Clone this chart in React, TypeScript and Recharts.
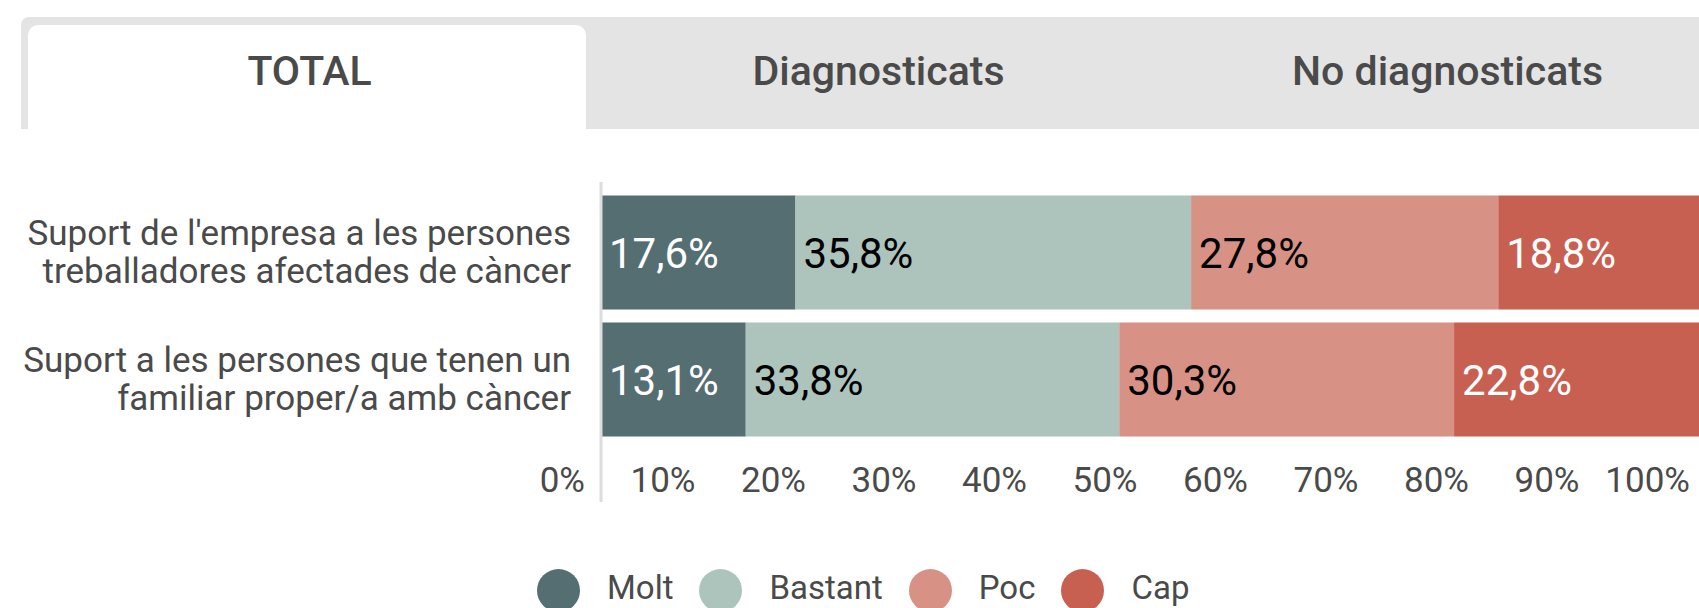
import React from 'react';
import { BarChart, Bar, XAxis, YAxis, Legend, LabelList } from 'recharts';

const categories = [
  "Suport de l'empresa a les persones treballadores afectades de càncer",
  'Suport a les persones que tenen un familiar proper/a amb càncer',
];
const categoryLines = [
  ["Suport de l'empresa a les persones", 'treballadores afectades de càncer'],
  ['Suport a les persones que tenen un', 'familiar proper/a amb càncer'],
];
const seriesNames = ['Molt', 'Bastant', 'Poc', 'Cap'];
const molt = [17.6, 13.1];
const bastant = [35.8, 33.8];
const poc = [27.8, 30.3];
const cap = [18.8, 22.8];
const xTicks = [0, 10, 20, 30, 40, 50, 60, 70, 80, 90, 100];
const tabLabels = ['TOTAL', 'Diagnosticats', 'No diagnosticats'];

const seriesColors = ['#546e72', '#adc4bd', '#d89285', '#c86052'];
const labelColors = ['#ffffff', '#000000', '#000000', '#ffffff'];
const seriesValues = [molt, bastant, poc, cap];

const data = categories.map((c, i) => {
  const row: any = { category: c };
  seriesNames.forEach((s, k) => {
    row[s] = seriesValues[k][i];
  });
  return row;
});

const FONT = 'Roboto, sans-serif';
const TEXT = '#4a4a4a';

const fmt = (v: number) => v.toFixed(1).replace('.', ',') + '%';

const CatTick = (props: any) => {
  const { x, y, payload } = props;
  const idx = categories.indexOf(payload.value);
  const lines = idx >= 0 ? categoryLines[idx] : [String(payload.value)];
  const n = lines.length;
  return (
    <text x={x} y={y} textAnchor="end" fontSize={35} fill={TEXT} fontFamily={FONT}>
      {lines.map((l, i) => (
        <tspan key={i} x={x} y={y + (i - (n - 1) / 2) * 38 + 12}>
          {l}
        </tspan>
      ))}
    </text>
  );
};

const XTick = (props: any) => {
  const { x, y, payload } = props;
  return (
    <text x={x - 16} y={y - 10} textAnchor="end" fontSize={35} fill={TEXT} fontFamily={FONT}>
      {payload.value}%
    </text>
  );
};

const makeLabel = (color: string) => (props: any) => {
  const { x, y, height, value } = props;
  return (
    <text
      x={Number(x) + 8}
      y={Number(y) + Number(height) / 2 + 15}
      fontSize={42}
      fill={color}
      fontFamily={FONT}
      textAnchor="start"
    >
      {fmt(Number(value))}
    </text>
  );
};

const LegendContent = (props: any) => {
  const items = [...(props.payload || [])].sort(
    (a: any, b: any) => seriesNames.indexOf(a.value) - seriesNames.indexOf(b.value)
  );
  return (
    <div style={{ display: 'flex', alignItems: 'flex-start', height: 39, fontFamily: FONT }}>
      {items.map((p: any, i: number) => (
        <div key={i} style={{ display: 'flex', alignItems: 'flex-start', marginRight: 26 }}>
          <div
            style={{
              width: 43,
              height: 43,
              borderRadius: '50%',
              background: p.color,
              marginRight: 27,
              flex: 'none',
            }}
          />
          <span
            style={{
              fontSize: 33,
              color: TEXT,
              lineHeight: '33px',
              height: 33,
              marginTop: 2,
              whiteSpace: 'nowrap',
            }}
          >
            {p.value}
          </span>
        </div>
      ))}
    </div>
  );
};

export default function App() {
  return (
    <div
      style={{
        position: 'absolute',
        left: 0,
        top: 0,
        width: 1699,
        height: 608,
        overflow: 'hidden',
        background: '#ffffff',
        fontFamily: FONT,
      }}
    >
      <div
        style={{
          position: 'absolute',
          left: 21,
          top: 17,
          width: 1700,
          height: 112,
          background: '#e4e4e4',
          borderTopLeftRadius: 8,
        }}
      />
      <div
        style={{
          position: 'absolute',
          left: 28,
          top: 25,
          width: 558,
          height: 104,
          background: '#ffffff',
          borderTopLeftRadius: 10,
          borderTopRightRadius: 10,
        }}
      />
      {tabLabels.map((t, i) => (
        <div
          key={t}
          style={{
            position: 'absolute',
            left: 25 + i * 569,
            top: 46,
            width: 569,
            height: 50,
            lineHeight: '50px',
            textAlign: 'center',
            fontSize: 41,
            fontWeight: 500,
            color: TEXT,
            whiteSpace: 'nowrap',
          }}
        >
          {t}
        </div>
      ))}
      <div style={{ position: 'absolute', left: 0, top: 0 }}>
        <BarChart
          width={1720}
          height={608}
          data={data}
          layout="vertical"
          margin={{ top: 182, right: 14, bottom: 66, left: 0 }}
        >
          <XAxis
            type="number"
            domain={[0, 100]}
            ticks={xTicks}
            axisLine={false}
            tickLine={false}
            tickSize={0}
            tickMargin={0}
            height={40}
            tick={XTick}
            interval={0}
          />
          <YAxis
            type="category"
            dataKey="category"
            width={601}
            axisLine={{ stroke: '#dddddd', strokeWidth: 3 }}
            tickLine={false}
            tickSize={0}
            tickMargin={30}
            padding={{ top: 6.5, bottom: 59.5 }}
            tick={CatTick}
            interval={0}
          />
          <Legend
            layout="horizontal"
            verticalAlign="middle"
            align="center"
            itemSorter={null as any}
            wrapperStyle={{ left: 537, top: 569, width: 'auto', height: 39, overflow: 'visible' }}
            content={LegendContent}
          />
          {seriesNames.map((s, k) => (
            <Bar
              key={s}
              dataKey={s}
              name={s}
              stackId="a"
              fill={seriesColors[k]}
              barSize={114}
              isAnimationActive={false}
            >
              <LabelList dataKey={s} content={makeLabel(labelColors[k])} />
            </Bar>
          ))}
        </BarChart>
      </div>
    </div>
  );
}
